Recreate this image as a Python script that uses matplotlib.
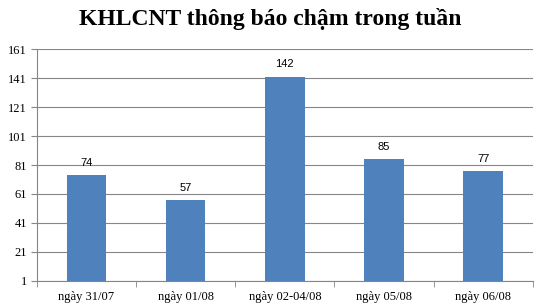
import matplotlib.pyplot as plt
import numpy as np

categories = ["ngày 31/07", "ngày 01/08", "ngày 02-04/08", "ngày 05/08", "ngày 06/08"]
values = [74, 57, 142, 85, 77]
yticks = [1, 21, 41, 61, 81, 101, 121, 141, 161]

fig = plt.figure(figsize=(5.41, 3.07), dpi=100)
ax = fig.add_axes([0.068, 0.085, 0.917, 0.755])

x = np.arange(len(categories))
ax.bar(x, values, width=0.4, color="#4F81BD", zorder=3)
for xi, v in zip(x, values):
    ax.text(xi, v + 5, str(v), ha="center", va="bottom", fontsize=8,
            family="Liberation Sans", zorder=4)

ax.set_xlim(-0.5, len(categories) - 0.5)
ax.set_ylim(1, 161)
ax.set_yticks(yticks)
ax.set_yticklabels([str(t) for t in yticks], family="Liberation Serif", fontsize=9)
ax.set_xticks(x)
ax.set_xticklabels(categories, family="Liberation Serif", fontsize=9)
ax.set_xticks(np.arange(-0.5, len(categories)), minor=True)
ax.tick_params(axis="x", which="major", length=0, pad=7)
ax.tick_params(axis="x", which="minor", length=4, color="#868686")
ax.tick_params(axis="y", length=4, color="#868686", pad=3)

ax.grid(axis="y", color="#868686", linewidth=0.8, zorder=0)
for side in ["top", "right"]:
    ax.spines[side].set_visible(False)
for side in ["left", "bottom"]:
    ax.spines[side].set_color("#868686")

fig.suptitle("KHLCNT thông báo chậm trong tuần", x=0.5, y=0.975,
             family="Liberation Serif", fontweight="bold", fontsize=17)

fig.savefig("out.png", dpi=100)
